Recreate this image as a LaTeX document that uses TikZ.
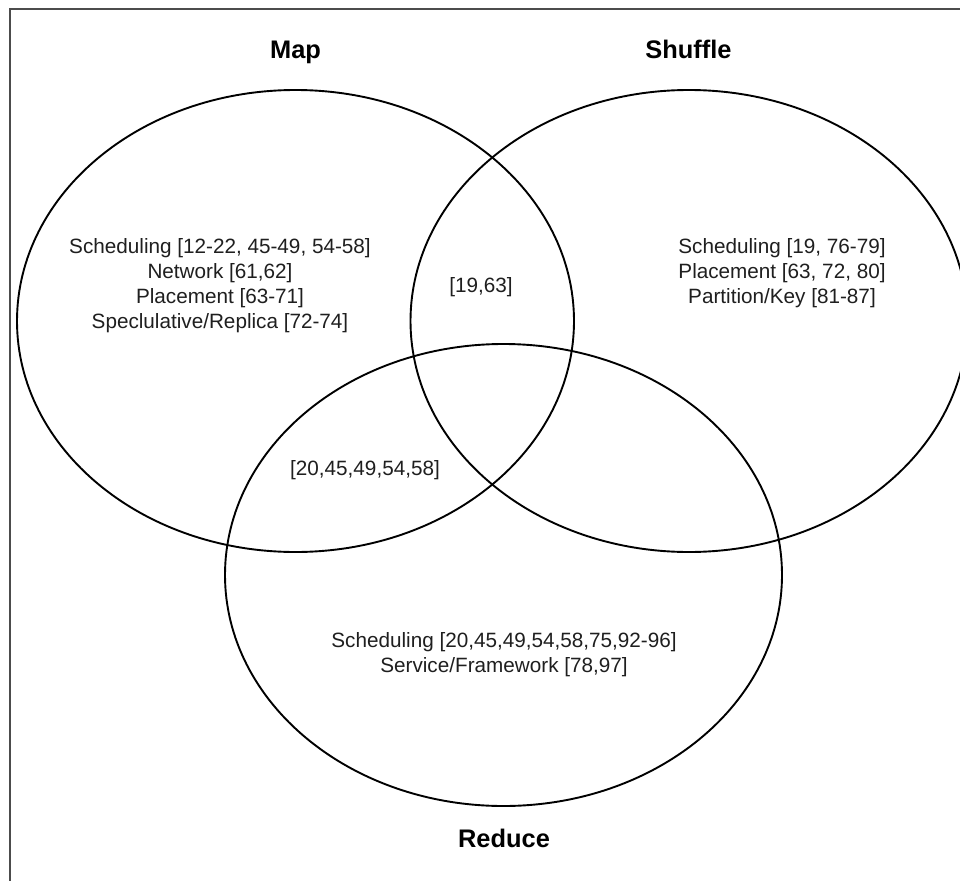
\documentclass[tikz,border=0pt]{standalone}
\usepackage{fontspec}
\setmainfont{Liberation Sans}
\usetikzlibrary{shapes.geometric}
\begin{document}
\begin{tikzpicture}[x=1pt,y=-1pt,
  setring/.style={ellipse, draw=black, line width=1.9pt,
    minimum width=557pt, minimum height=462pt, inner sep=0pt, outer sep=0pt},
  setname/.style={font=\bfseries\fontsize{25.4}{30}\selectfont, text=black,
    inner sep=0pt, anchor=base},
  setitems/.style={font=\fontsize{20.7}{25.2}\selectfont, align=center,
    text=black!88, inner sep=0pt},
  frameline/.style={draw=black!70, line width=1.8pt},
]
\useasboundingbox (0,0) rectangle (960,880);
\clip (0,0) rectangle (960,880);
\fill[white] (0,0) rectangle (960,880);
% outer frame, only its top and left sides fall inside the page
\draw[frameline] (10,9) rectangle (1000,920);

% the three sets
\node[setring] (map)     at (295.5,321) {};
\node[setring] (shuffle) at (689,321) {};
\node[setring] (reduce)  at (503.5,575) {};

% set names, placed on their baselines
\node[setname] (mapname)     at (295.5,59) {Map};
\node[setname] (shufflename) at (688.5,59) {Shuffle};
\node[setname] (reducename)  at (504,847) {Reduce};

% region contents
\node[setitems] (maponly) at (220,285.5)
  {Scheduling [12-22, 45-49, 54-58]\\Network [61,62]\\Placement [63-71]\\Speclulative/Replica [72-74]};
\node[setitems] (shuffleonly) at (782,273)
  {Scheduling [19, 76-79]\\Placement [63, 72, 80]\\Partition/Key [81-87]};
\node[setitems] (mapshuffle) at (481,287) {[19,63]};
\node[setitems] (mapreduce) at (365,470) {[20,45,49,54,58]};
\node[setitems] (reduceonly) at (504,654.5)
  {Scheduling [20,45,49,54,58,75,92-96]\\Service/Framework [78,97]};
\end{tikzpicture}
\end{document}
